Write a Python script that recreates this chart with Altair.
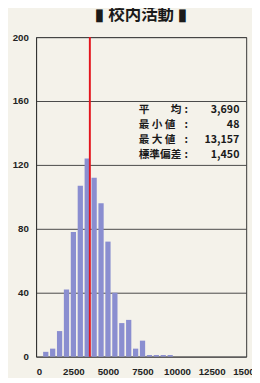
import altair as alt
import pandas as pd

# histogram bins (bin centre, yen) and counts
bin_centers = [500, 1000, 1500, 2000, 2500, 3000, 3500, 4000, 4500, 5000,
               5500, 6000, 6500, 7000, 7500, 8000, 8500, 9000, 9500]
counts = [3, 5, 16, 42, 78, 107, 124, 112, 96, 72,
          40, 21, 23, 5, 10, 1, 1, 1, 1]
bin_width = 500

mean_value = 3690
stat_labels = ["平　　均", "最 小 値", "最 大 値", "標準偏差"]
stat_values = ["3,690", "48", "13,157", "1,450"]

y_ticks = [0, 40, 80, 120, 160, 200]
x_ticks = [0, 2500, 5000, 7500, 10000, 12500, 15000]

df = pd.DataFrame({"center": bin_centers, "count": counts})
df["x0"] = df["center"] - bin_width * 0.38
df["x1"] = df["center"] + bin_width * 0.38

xscale = alt.Scale(domain=[-200, 15000], nice=False, zero=False)
yscale = alt.Scale(domain=[0, 200], nice=False)

x_axis = alt.Axis(values=x_ticks, format="d", title=None, grid=False,
                  ticks=False, domain=False, labelFont="Liberation Sans",
                  labelFontWeight="bold", labelFontSize=10,
                  labelColor="#222", labelPadding=10, labelFlush=False,
                  labelOverlap=False, labelBound=False)

bars = alt.Chart(df).mark_rect(color="#8a8ed0").encode(
    x=alt.X("x0:Q", scale=xscale, axis=x_axis),
    x2="x1:Q",
    y=alt.Y("count:Q", scale=yscale,
            axis=alt.Axis(values=y_ticks, title=None, grid=True,
                          gridColor="#444", gridWidth=1, ticks=False,
                          domain=True, domainColor="#333",
                          labelFont="Liberation Sans", labelFontWeight="bold",
                          labelFontSize=10, labelColor="#222",
                          labelPadding=8)),
    y2=alt.datum(0),
)

mean_df = pd.DataFrame({"mean": [mean_value]})
rule = alt.Chart(mean_df).mark_rule(color="#e3151d", strokeWidth=2).encode(
    x=alt.X("mean:Q", scale=xscale, axis=x_axis)
)

stats = pd.DataFrame({"label": stat_labels, "value": stat_values,
                      "row": list(range(len(stat_labels)))})
row_y = alt.Y("row:Q", scale=alt.Scale(domain=[0, 3], range=[75, 122]),
              axis=None)
text_style = dict(baseline="middle", font="Noto Sans CJK JP",
                  fontWeight="bold", fontSize=11, color="#1a1a1a")
label_text = alt.Chart(stats).mark_text(align="left", **text_style).encode(
    x=alt.value(106), y=row_y, text="label:N",
)
colon_text = alt.Chart(stats).mark_text(align="center", **text_style).encode(
    x=alt.value(155), y=row_y, text=alt.value(":"),
)
value_text = alt.Chart(stats).mark_text(align="right", **text_style).encode(
    x=alt.value(210), y=row_y, text="value:N",
)

chart = alt.layer(bars, rule, label_text, colon_text, value_text).resolve_scale(
    y="independent"
).properties(
    width=217,
    height=330,
    background="#f4f2ea",
    padding={"left": 29, "top": 24, "right": 6, "bottom": 16},
    autosize=alt.AutoSizeParams(type="none"),
    title=alt.TitleParams("▮ 校内活動 ▮", font="Noto Sans CJK JP",
                          fontSize=17, fontWeight="bold", color="#1a1a1a",
                          anchor="middle", offset=9),
).configure_view(stroke="#333", strokeWidth=1)

chart.save("out.html", embed_options={"renderer": "svg", "actions": False})
